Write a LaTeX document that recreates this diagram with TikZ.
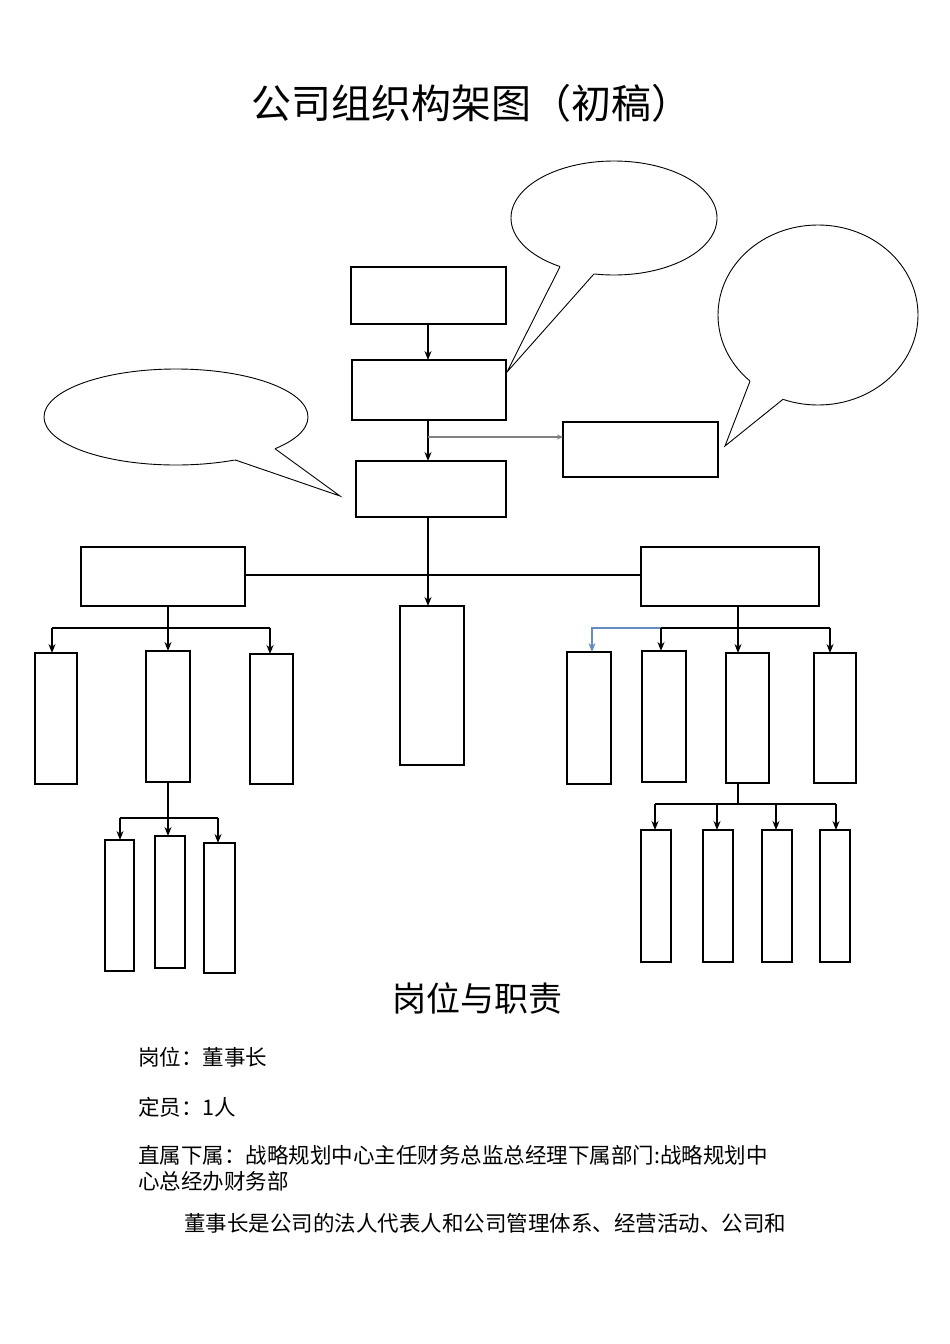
\documentclass[tikz,border=0pt]{standalone}
\usepackage{fontspec}
\setmainfont{Noto Sans CJK SC}
\usetikzlibrary{calc,arrows.meta}
\begin{document}
\begin{tikzpicture}[x=1pt,y=-1pt,
  bx/.style={draw,line width=1.2pt},
  ar/.style={-{Stealth[length=9pt,width=7pt]},line width=1.2pt},
  ln/.style={line width=1.2pt},
  bub/.style={line width=0.9pt},
  txt/.style={anchor=west,font=\fontsize{21.5}{24}\selectfont,inner sep=0}]
\useasboundingbox (0,0) rectangle (950,1344);
\node[font=\fontsize{40}{44}\selectfont] (title) at (471,103) {公司组织构架图（初稿）};
% boxes
\draw[bx] (351,267) rectangle (506,324) node[pos=.5](A){};
\draw[bx] (352,360) rectangle (506,420) node[pos=.5](B){};
\draw[bx] (563,422) rectangle (718,477) node[pos=.5](C){};
\draw[bx] (356,461) rectangle (506,517) node[pos=.5](D){};
\draw[bx] (81,547) rectangle (245,606) node[pos=.5](E){};
\draw[bx] (641,547) rectangle (819,606) node[pos=.5](F){};
\draw[bx] (400,606) rectangle (464,765) node[pos=.5](G){};
\draw[bx] (35,653) rectangle (77,784);
\draw[bx] (146,651) rectangle (190,782);
\draw[bx] (250,654) rectangle (293,784);
\draw[bx] (105,840) rectangle (134,971);
\draw[bx] (155,836) rectangle (185,968);
\draw[bx] (204,843) rectangle (235,973);
\draw[bx] (567,652) rectangle (611,784);
\draw[bx] (642,651) rectangle (686,782);
\draw[bx] (726,653) rectangle (769,783);
\draw[bx] (814,653) rectangle (856,783);
\draw[bx] (641,830) rectangle (671,962);
\draw[bx] (703,830) rectangle (733,962);
\draw[bx] (762,830) rectangle (792,962);
\draw[bx] (820,830) rectangle (850,962);
% connectors
\draw[ar] (428,324) -- (428,360);
\draw[ar] (428,420) -- (428,461);
\draw[ln,-{Stealth[length=6pt,width=5pt]},gray] (428,437) -- (563,437);
\draw[ar] (428,517) -- (428,606);
\draw[ln] (245,575) -- (641,575);
\draw[ln] (168,606) -- (168,628) (52,628) -- (270,628);
\draw[ar] (52,628) -- (52,653);
\draw[ar] (168,628) -- (168,651);
\draw[ar] (270,628) -- (270,654);
\draw[ln] (168,782) -- (168,818) (120,818) -- (218,818);
\draw[ar] (120,818) -- (120,840);
\draw[ar] (168,818) -- (168,836);
\draw[ar] (218,818) -- (218,843);
\draw[ar] (738,606) -- (738,653);
\draw[ln] (661,628) -- (830,628);
\draw[ln,-{Stealth[length=9pt,width=7pt]},color={rgb,255:red,100;green,140;blue,190}] (661,628) -- (592,628) -- (592,652);
\draw[ar] (661,628) -- (661,651);
\draw[ar] (830,628) -- (830,653);
\draw[ln] (738,783) -- (738,804) (655,804) -- (836,804);
\draw[ar] (655,804) -- (655,830);
\draw[ar] (717,804) -- (717,830);
\draw[ar] (776,804) -- (776,830);
\draw[ar] (836,804) -- (836,830);
% callouts
\foreach \cx/\cy/\rx/\ry/\ta/\tb/\tx/\ty in {614/218/103/57/121.6/101.2/507/372, 818/315/100/90/132.8/110.5/725/446, 176/417/132/48/63.4/41.4/340/496}{
  \draw[bub] (\cx,\cy) ellipse [x radius=\rx, y radius=\ry];
  \coordinate (p) at ({\cx+\rx*cos(\ta)},{\cy+\ry*sin(\ta)});
  \coordinate (q) at ({\cx+\rx*cos(\tb)},{\cy+\ry*sin(\tb)});
  \coordinate (t) at (\tx,\ty);
  \fill[white] ($(p)!0.03!(t)$) -- (t) -- ($(q)!0.03!(t)$) -- ($(q)!-0.05!(t)$) -- ($(p)!-0.05!(t)$) -- cycle;
  \draw[bub] (p) -- (t) -- (q);
}
% text
\node[font=\fontsize{34}{38}\selectfont] (h) at (477,998) {岗位与职责};
\node[txt] (l1) at (138,1057) {岗位：董事长};
\node[txt] (l2) at (138,1107) {定员：1人};
\node[txt] (l3) at (138,1155) {直属下属：战略规划中心主任财务总监总经理下属部门:战略规划中};
\node[txt] (l4) at (138,1181) {心总经办财务部};
\node[txt] (l5) at (184,1223) {董事长是公司的法人代表人和公司管理体系、经营活动、公司和};
\end{tikzpicture}
\end{document}
